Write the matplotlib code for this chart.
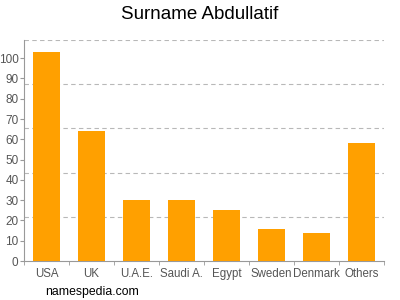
import matplotlib
matplotlib.use("Agg")
import matplotlib.pyplot as plt
import numpy as np

categories = ["USA", "UK", "U.A.E.", "Saudi A.", "Egypt", "Sweden", "Denmark", "Others"]
values = [103, 64, 30, 30, 25, 16, 14, 58]
yticks = list(range(0, 101, 10))
grid_levels = [21.8, 43.6, 65.4, 87.2, 109]

plt.rcParams['font.family'] = ['Liberation Sans', 'DejaVu Sans']
fig = plt.figure(figsize=(4, 3), dpi=100)
ax = fig.add_axes([0.06, 0.13, 0.90, 0.737])
x = np.arange(len(categories))
ax.bar(x, values, width=0.62, color="#ffa000", zorder=3)
for g in grid_levels:
    ax.axhline(g, color="#b8b8b8", linestyle=(0, (4, 3)), linewidth=0.8, zorder=1)
ax.set_xlim(-0.5, len(categories) - 0.5)
ax.set_ylim(0, 109)
ax.set_yticks(yticks)
ax.set_xticks(x)
ax.set_xticklabels(categories)
ax.set_xticks(np.arange(-0.5, len(categories), 1), minor=True)
ax.tick_params(axis="x", which="major", length=0, labelsize=8.3, labelcolor="#555555", pad=5)
ax.tick_params(axis="x", which="minor", length=3, color="#999999")
ax.tick_params(axis="y", length=3, color="#999999", labelsize=8.5, labelcolor="#555555", pad=1)
for s in ["top", "right"]:
    ax.spines[s].set_visible(False)
for s in ["left", "bottom"]:
    ax.spines[s].set_color("#999999")
fig.text(0.5, 0.952, "Surname Abdullatif", ha="center", va="center", fontsize=13.5, color="#000000")
fig.text(0.112, 0.027, "namespedia.com", ha="left", va="center", fontsize=8.8, color="#000000")
fig.savefig("out.png", dpi=100)
